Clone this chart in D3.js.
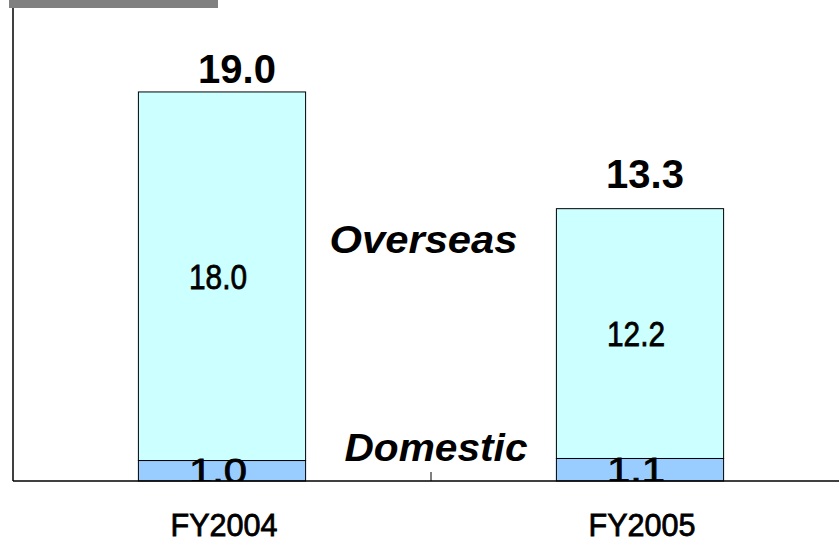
<!DOCTYPE html>
<html>
<head>
<meta charset="utf-8">
<script src="https://cdn.jsdelivr.net/npm/d3@7"></script>
<style>
  html, body { margin: 0; padding: 0; background: #fff; }
  svg { display: block; }
</style>
</head>
<body>
<svg id="chart" width="839" height="544"></svg>
<script>
// Sales by region, billions
const categories = ["FY2004", "FY2005"];
const domestic = [1.0, 1.1];
const overseas = [18.0, 12.2];
const totals = [19.0, 13.3];
const seriesNames = ["Domestic", "Overseas"];

const W = 839, H = 544;
const plot = { left: 13, right: 849, top: 8, bottom: 481 };

const svg = d3.select("#chart");

const x = d3.scaleBand()
  .domain(categories)
  .range([plot.left, plot.right])
  .paddingInner(0.6)
  .paddingOuter(0.3);

const y = d3.scaleLinear()
  .domain([0, 23.1])
  .range([plot.bottom, plot.top]);

const rows = categories.map((c, i) => ({ cat: c, Domestic: domestic[i], Overseas: overseas[i], total: totals[i] }));
const stack = d3.stack().keys(seriesNames)(rows);
const fills = { Domestic: "#99CCFF", Overseas: "#CCFFFF" };

const gothic = "'Liberation Sans', Arial, sans-serif";

// grey header strip
svg.append("rect")
  .attr("x", 9).attr("y", 0).attr("width", 209).attr("height", 8)
  .attr("fill", "#808080");

svg.append("defs").append("clipPath").attr("id", "plotClip")
  .append("rect")
  .attr("x", plot.left).attr("y", plot.top)
  .attr("width", W - plot.left).attr("height", plot.bottom - plot.top);

// stacked bars
const layers = svg.append("g").selectAll("g")
  .data(stack).join("g")
  .attr("fill", d => fills[d.key]);

layers.selectAll("rect")
  .data(d => d)
  .join("rect")
  .attr("x", d => x(d.data.cat))
  .attr("y", d => y(d[1]))
  .attr("width", x.bandwidth())
  .attr("height", d => y(d[0]) - y(d[1]))
  .attr("stroke", "#000")
  .attr("stroke-width", 1);

// segment value labels (clipped at the baseline)
const segLabels = svg.append("g").attr("clip-path", "url(#plotClip)");
stack.forEach(layer => {
  segLabels.selectAll(null)
    .data(layer)
    .join("text")
    .attr("x", d => x(d.data.cat) + x.bandwidth() / 2 - 4)
    .attr("y", d => (y(d[0]) + y(d[1])) / 2)
    .attr("dy", "0.36em")
    .attr("text-anchor", "middle")
    .attr("font-family", gothic)
    .attr("font-size", 35)
    .attr("textLength", 58)
    .attr("lengthAdjust", "spacingAndGlyphs")
    .attr("fill", "#000")
    .attr("stroke", "#000")
    .attr("stroke-width", 0.8)
    .text(d => d3.format(".1f")(d.data[layer.key]));
});

// total labels above each bar
const totalShift = [[15, -9], [5, -21]];
svg.append("g").selectAll("text")
  .data(rows)
  .join("text")
  .attr("x", (d, i) => x(d.cat) + x.bandwidth() / 2 + totalShift[i][0])
  .attr("y", (d, i) => y(d.total) + totalShift[i][1])
  .attr("text-anchor", "middle")
  .attr("font-family", "'Liberation Sans', Arial, sans-serif")
  .attr("font-weight", "bold")
  .attr("font-size", 40)
  .attr("fill", "#000")
  .text(d => d3.format(".1f")(d.total));

// series names between the bars
const seriesLabels = [
  { text: "Overseas", x: 423.5, y: 253, len: 188 },
  { text: "Domestic", x: 436, y: 461, len: 183 }
];
svg.append("g").selectAll("text")
  .data(seriesLabels)
  .join("text")
  .attr("x", d => d.x)
  .attr("y", d => d.y)
  .attr("text-anchor", "middle")
  .attr("font-family", "'Liberation Sans', Arial, sans-serif")
  .attr("font-weight", "bold")
  .attr("font-style", "italic")
  .attr("font-size", 38)
  .attr("textLength", d => d.len)
  .attr("lengthAdjust", "spacingAndGlyphs")
  .attr("fill", "#000")
  .text(d => d.text);

// axes
const axisColor = "#000";
svg.append("line")
  .attr("x1", plot.left).attr("x2", plot.left)
  .attr("y1", plot.top).attr("y2", plot.bottom)
  .attr("stroke", axisColor).attr("stroke-width", 1.5);

svg.append("line")
  .attr("x1", plot.left).attr("x2", W)
  .attr("y1", plot.bottom).attr("y2", plot.bottom)
  .attr("stroke", axisColor).attr("stroke-width", 1.5);

// category boundary ticks pointing inward
const boundaries = categories.slice(1).map(c => x(c) - x.step() * x.paddingInner() / 2);
svg.append("g").selectAll("line")
  .data(boundaries)
  .join("line")
  .attr("x1", d => d).attr("x2", d => d)
  .attr("y1", plot.bottom - 9).attr("y2", plot.bottom)
  .attr("stroke", axisColor).attr("stroke-width", 1);

// category labels
svg.append("g").selectAll("text")
  .data(categories)
  .join("text")
  .attr("x", d => x(d) + x.bandwidth() / 2 + 2)
  .attr("y", 536)
  .attr("text-anchor", "middle")
  .attr("font-family", gothic)
  .attr("font-size", 32)
  .attr("textLength", 107)
  .attr("lengthAdjust", "spacingAndGlyphs")
  .attr("fill", "#000")
  .attr("stroke", "#000")
  .attr("stroke-width", 0.8)
  .text(d => d);
</script>
</body>
</html>
